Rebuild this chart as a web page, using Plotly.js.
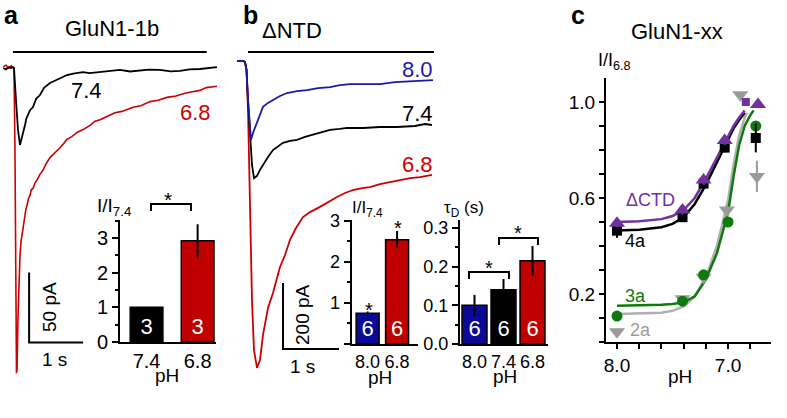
<!DOCTYPE html>
<html><head><meta charset="utf-8">
<script src="https://cdn.plot.ly/plotly-3.0.1.min.js"></script>
<style>html,body{margin:0;padding:0;background:#fff}#chart{width:787px;height:418px}</style>
</head><body><div id="chart"></div>
<script>
// ================= DATA =================
// Panel a: GluN1-1b currents (time in s, current in pA)
const a74_t = [-0.2,-0.15,-0.1,-0.05,-0.02,0,0.037,0.074,0.111,0.148,0.175,0.204,0.23,0.259,0.3,0.352,0.41,0.481,0.56,0.667,0.76,0.852,0.92,0.981,1.1,1.278,1.4,1.593,1.75,1.963,2.15,2.333,2.5,2.704,2.9,3.074,3.25,3.444,3.6,3.759];
const a74_I = [0,-1,0.5,0,0.7,0,-22.9,-44.3,-55,-50,-45,-40.7,-36,-33.6,-30,-27.9,-22,-19.3,-14,-10.7,-9,-7.1,-6,-5,-4,-2.9,-3.6,-2.9,-1.8,-1.4,-2.5,-2.1,-1.2,-1.4,-2.4,-2.1,-1.0,-0.7,-0.2,0.7];
const a68_t = [-0.2,-0.15,-0.1,-0.05,-0.02,0,0.018,0.037,0.046,0.056,0.074,0.093,0.111,0.13,0.148,0.17,0.204,0.22,0.241,0.27,0.296,0.32,0.352,0.39,0.426,0.48,0.537,0.6,0.667,0.75,0.852,0.92,0.981,1.07,1.167,1.28,1.407,1.5,1.593,1.7,1.87,2.0,2.204,2.35,2.519,2.67,2.833,3.0,3.167,3.3,3.444,3.56,3.685,3.759];
const a68_I = [1,2,0,1.5,0.5,0,-58,-166,-218,-215,-178,-150,-134,-124,-119,-112,-106,-101,-98,-93,-91,-87,-86,-82,-80,-76,-73,-68,-64,-61,-57,-54,-51,-49,-46,-44,-41,-38,-37,-35,-32,-31,-28,-27,-24,-23,-21,-20,-18,-17,-16,-14,-13.6,-13];
const aScale_t = [0.28,0.28,1.28];   // 50 pA / 1 s scale bar
const aScale_I = [-146,-196,-196];
const aStim = [-0.02, 3.57, 11.4];   // stimulus bar: t start, t end, level

// Panel a inset: I/I7.4
const aBarPH = ['7.4','6.8'];
const aBarVal = [1.0, 2.92];
const aBarErr = [0, 0.48];
const aBarN = ['3','3'];

// Panel b: ΔNTD currents
const b80_t = [-0.17,-0.063,-0.027,0,0.027,0.0625,0.08,0.116,0.1875,0.24,0.295,0.384,0.473,0.598,0.723,0.81,0.902,1.08,1.277,1.491,1.67,1.848,2.116,2.384,2.652,2.92,3.098,3.33];
const b80_I = [0,0,-3,-27,-118,-209,-239,-218,-188,-160,-139,-127,-118,-106,-97,-94,-91,-88,-82,-79,-73,-70,-70,-70,-64,-61,-61,-58];
const b74_t = [-0.17,-0.063,-0.027,0,0.027,0.0625,0.098,0.134,0.1875,0.241,0.295,0.384,0.473,0.5625,0.652,0.777,0.902,1.045,1.1875,1.348,1.491,1.67,1.795,2.08,2.384,2.6875,3.009,3.1875,3.3125];
const b74_I = [0,0,-3,-27,-118,-239,-315,-355,-348,-330,-315,-291,-270,-258,-248,-242,-239,-230,-224,-215,-209,-206,-203,-203,-200,-200,-197,-191,-194];
const b68_t = [-0.17,-0.063,-0.027,0,0.027,0.0625,0.098,0.134,0.1875,0.241,0.295,0.384,0.473,0.598,0.6875,0.777,0.884,1.009,1.134,1.3125,1.455,1.616,1.759,1.902,2.0625,2.205,2.384,2.5625,2.741,2.92,3.098,3.3125];
const b68_I = [0,0,-3,-27,-148,-421,-724,-876,-930,-906,-830,-748,-703,-624,-588,-542,-506,-473,-458,-442,-427,-412,-400,-391,-385,-382,-373,-367,-361,-355,-352,-345];
const bScale_t = [0.652,0.652,1.652];  // 200 pA / 1 s scale bar
const bScale_I = [-673,-873,-873];
const bStim = [0.027, 3.348, 27];

// Panel b inset 1: I/I7.4
const b1PH = ['8.0','6.8'];
const b1Val = [0.75, 2.54];
const b1Err = [0.04, 0.21];
const b1N = ['6','6'];

// Panel b inset 2: tau_D (s)
const b2PH = ['8.0','7.4','6.8'];
const b2Val = [0.100, 0.140, 0.215];
const b2Err = [0.027, 0.028, 0.038];
const b2N = ['6','6','6'];

// Panel c: I/I6.8 vs pH
const ctdPH  = [8.0, 7.41, 7.22, 7.03, 6.73];
const ctdVal = [0.495, 0.55, 0.675, 0.84, 0.99];
const ctdErr = [0.015, 0.02, 0.02, 0.02, 0.01];
const ctdSqPH = [6.84], ctdSqVal = [1.0];
const n4aPH  = [8.0, 7.41, 7.22, 7.03, 6.75];
const n4aVal = [0.464, 0.52, 0.66, 0.81, 0.85];
const n4aErr = [0.03, 0.015, 0.02, 0.02, 0.06];
const n3aPH  = [8.0, 7.41, 7.22, 7.0, 6.75];
const n3aVal = [0.108, 0.17, 0.28, 0.50, 0.90];
const n3aErr = [0.01, 0.01, 0.02, 0.02, 0.02];
const n2aPH  = [8.0, 7.41, 7.22, 7.01, 6.89, 6.74];
const n2aVal = [0.043, 0.18, 0.27, 0.55, 1.03, 0.69];
const n2aErr = [0.01, 0.01, 0.015, 0.02, 0.01, 0.065];
// fitted curves
const fitPH_A  = [8.0, 7.8, 7.6, 7.5, 7.4, 7.3, 7.2, 7.1, 7.0, 6.95, 6.9, 6.85];
const fitCTD   = [0.50, 0.503, 0.512, 0.525, 0.55, 0.60, 0.68, 0.77, 0.86, 0.90, 0.935, 0.965];
const fit4a    = [0.465, 0.468, 0.478, 0.492, 0.52, 0.575, 0.655, 0.75, 0.845, 0.89, 0.925, 0.955];
const fitPH_3a = [8.0, 7.8, 7.6, 7.5, 7.4, 7.3, 7.2, 7.1, 7.05, 7.0, 6.95, 6.9, 6.85, 6.8, 6.77];
const fit3a    = [0.151, 0.152, 0.155, 0.158, 0.165, 0.19, 0.26, 0.37, 0.45, 0.54, 0.69, 0.82, 0.9, 0.945, 0.965];
const fitPH_2a = [8.0, 7.8, 7.6, 7.5, 7.4, 7.3, 7.2, 7.1, 7.05, 7.0, 6.95, 6.9, 6.85, 6.83];
const fit2a    = [0.117, 0.118, 0.122, 0.13, 0.148, 0.19, 0.27, 0.40, 0.49, 0.59, 0.74, 0.86, 0.935, 0.955];
const cXTicks = [8.0, 7.8, 7.6, 7.4, 7.2, 7.0, 6.8, 6.6];
const cXText  = ['8.0','','','','','7.0','',''];
const cYTicks = [0,0.1,0.2,0.3,0.4,0.5,0.6,0.7,0.8,0.9,1.0];
const cYText  = ['','','0.2','','','','0.6','','','','1.0'];

// ================= STYLE / LAYOUT =================
const W = 787, H = 418;
const X = p => p / W, Y = p => 1 - p / H;
const FONT = 'Liberation Sans, Arial, Helvetica, sans-serif';
const RED = '#cc0000', BARRED = '#c00000', BLUE = '#1a1aa8', BARBLUE = '#0a0a98';
const PURPLE = '#7030a0', GREEN = '#0e7a0e', GRAY = '#9a9a9a';

const axBase = {showline:true, linecolor:'black', linewidth:2, ticks:'outside', ticklen:6, tickwidth:2,
  tickcolor:'black', showgrid:false, zeroline:false, fixedrange:true, tickfont:{family:FONT, size:20, color:'black'}};

const traces = [];
const line = (x, y, xa, ya, color, w) => ({type:'scatter', mode:'lines', x, y, xaxis:xa, yaxis:ya,
  line:{color, width:w}, hoverinfo:'skip', showlegend:false});

// panel a traces
traces.push(line(a68_t, a68_I, 'x', 'y', RED, 1.6));
traces.push(line(a74_t, a74_I, 'x', 'y', 'black', 1.8));
traces.push(line(aScale_t, aScale_I, 'x', 'y', 'black', 2));
// panel b traces
traces.push(line(b68_t, b68_I, 'x3', 'y3', RED, 1.8));
traces.push(line(b74_t, b74_I, 'x3', 'y3', 'black', 1.8));
traces.push(line(b80_t, b80_I, 'x3', 'y3', BLUE, 1.8));
traces.push(line(bScale_t, bScale_I, 'x3', 'y3', 'black', 2));

const bar = (labels, vals, errs, ns, colors, xa, ya, width) => ({type:'bar',
  x: labels.map((_, i) => i), y: vals, xaxis:xa, yaxis:ya, width,
  marker:{color:colors, line:{color:'black', width:1.5}},
  error_y:{type:'data', array:errs, visible:true, color:'black', thickness:2, width:0},
  text: ns, textposition:'inside', insidetextanchor:'start', constraintext:'none',
  textfont:{family:FONT, color:'white', size:22}, hoverinfo:'skip', showlegend:false});
traces.push(bar(aBarPH, aBarVal, aBarErr, aBarN, ['black', BARRED], 'x2', 'y2', 0.64));
traces.push(bar(b1PH, b1Val, b1Err, b1N, [BARBLUE, BARRED], 'x4', 'y4', 0.78));
traces.push(bar(b2PH, b2Val, b2Err, b2N, [BARBLUE, 'black', BARRED], 'x5', 'y5', 0.86));

// panel c
traces.push(line(fitPH_2a, fit2a, 'x6', 'y6', '#b0b0b0', 2.5));
traces.push(line(fitPH_3a, fit3a, 'x6', 'y6', GREEN, 2.5));
traces.push(line(fitPH_A, fit4a, 'x6', 'y6', 'black', 2.5));
traces.push(line(fitPH_A, fitCTD, 'x6', 'y6', PURPLE, 2.5));
const pts = (x, y, err, sym, color, size) => ({type:'scatter', mode:'markers', x, y, xaxis:'x6', yaxis:'y6',
  marker:{symbol:sym, color, size, line:{width:0}},
  error_y:{type:'data', array:err, visible:true, color, thickness:2, width:0},
  hoverinfo:'skip', showlegend:false, cliponaxis:false});
traces.push(pts(n2aPH, n2aVal, n2aErr, 'triangle-down', GRAY, 14));
traces.push(pts(n3aPH, n3aVal, n3aErr, 'circle', GREEN, 11));
traces.push(pts(n4aPH, n4aVal, n4aErr, 'square', 'black', 10));
traces.push(pts(ctdPH, ctdVal, ctdErr, 'triangle-up', PURPLE, 14));
traces.push(pts(ctdSqPH, ctdSqVal, [0], 'square', PURPLE, 8));

const ann = (text, px, py, size, color, extra) => Object.assign({text, x:X(px), y:Y(py), xref:'paper', yref:'paper',
  showarrow:false, xanchor:'center', yanchor:'middle', font:{family:FONT, size, color:color||'black'}}, extra||{});

const annotations = [
  ann('<b>a</b>', 11, 15, 25),
  ann('GluN1-1b', 112, 29, 22),
  ann('7.4', 86, 91, 22),
  ann('6.8', 195, 112, 22, RED),
  ann('50 pA', 49, 307, 19, 'black', {textangle:-90}),
  ann('1 s', 54, 359, 19),
  ann('I/I<sub>7.4</sub>', 95, 207, 19, 'black', {xanchor:'left'}),
  ann('*', 168, 199, 21),
  ann('pH', 167, 375, 19),

  ann('<b>b</b>', 250, 15, 25),
  ann('ΔNTD', 292, 30, 22),
  ann('8.0', 418, 69, 22, BLUE),
  ann('7.4', 418, 114, 22),
  ann('6.8', 418, 164, 22, RED),
  ann('200 pA', 302, 315, 19, 'black', {textangle:-90}),
  ann('1 s', 302, 366, 19),
  ann('I/I<sub>7.4</sub>', 350, 209, 17, 'black', {xanchor:'left'}),
  ann('*', 369, 310, 20),
  ann('*', 398, 228, 20),
  ann('pH', 380, 377, 19),
  ann('τ<sub>D</sub> (s)', 442, 209, 17, 'black', {xanchor:'left'}),
  ann('*', 489, 268, 20),
  ann('*', 518, 233, 20),
  ann('pH', 505, 376, 19),

  ann('<b>c</b>', 578, 15, 25),
  ann('GluN1-xx', 677, 31, 22),
  ann('I/I<sub>6.8</sub>', 596, 61, 18, 'black', {xanchor:'left'}),
  ann('ΔCTD', 650, 200, 18, PURPLE),
  ann('4a', 635, 241, 18),
  ann('3a', 635, 296, 18, GREEN),
  ann('2a', 640, 330, 18, GRAY),
  ann('pH', 680, 376, 19)
];

const bracket = (x0, x1, yTop, yLeg) => ({type:'path', xref:'paper', yref:'paper',
  path:`M ${X(x0)} ${Y(yLeg)} L ${X(x0)} ${Y(yTop)} L ${X(x1)} ${Y(yTop)} L ${X(x1)} ${Y(yLeg)}`,
  line:{color:'black', width:2}});

const shapes = [
  {type:'line', xref:'x', yref:'y', x0:aStim[0], x1:aStim[1], y0:aStim[2], y1:aStim[2], line:{color:'black', width:2}},
  {type:'line', xref:'x3', yref:'y3', x0:bStim[0], x1:bStim[1], y0:bStim[2], y1:bStim[2], line:{color:'black', width:2}},
  bracket(151, 191, 204, 211),
  bracket(469, 509, 272, 279),
  bracket(499, 538, 238, 245)
];

const layout = {
  width: W, height: H, margin:{l:0, r:0, t:0, b:0},
  paper_bgcolor:'white', plot_bgcolor:'rgba(0,0,0,0)',
  font:{family:FONT, color:'black'}, showlegend:false, hovermode:false,
  xaxis:{domain:[X(0.5), X(230)], range:[-0.25, 4.0], visible:false, fixedrange:true},
  yaxis:{domain:[Y(418), Y(40)], range:[-250, 20], visible:false, fixedrange:true},
  xaxis2:Object.assign({}, axBase, {anchor:'y2', domain:[X(120), X(215.5)], range:[-0.52, 1.35],
    tickmode:'array', tickvals:[0,1], ticktext:aBarPH, ticks:''}),
  yaxis2:Object.assign({}, axBase, {anchor:'x2', domain:[Y(342), Y(220)], range:[0, 3.52],
    tickmode:'array', tickvals:[0,1,2,3], ticktext:['0','1','2','3'],
    minor:{tickmode:'array', tickvals:[0.5,1.5,2.5,3.5], ticks:'outside', ticklen:3, tickwidth:2, tickcolor:'black'}}),
  xaxis3:{domain:[X(230), X(440)], range:[-0.2946, 3.4554], visible:false, fixedrange:true},
  yaxis3:{domain:[Y(418), Y(40)], range:[-1081.8, 63.6], visible:false, fixedrange:true},
  xaxis4:Object.assign({}, axBase, {anchor:'y4', domain:[X(351.7), X(418.3)], range:[-0.54, 1.72],
    tickmode:'array', tickvals:[0,1], ticktext:b1PH, ticks:'', tickfont:{family:FONT, size:18, color:'black'}}),
  yaxis4:Object.assign({}, axBase, {anchor:'x4', domain:[Y(344), Y(220)], range:[0, 3.02],
    tickmode:'array', tickvals:[0,1,2,3], ticktext:['','1','2','3'], tickfont:{family:FONT, size:18, color:'black'},
    minor:{tickmode:'array', tickvals:[0.5,1.5,2.5], ticks:'outside', ticklen:3, tickwidth:2, tickcolor:'black'}}),
  xaxis5:Object.assign({}, axBase, {anchor:'y5', domain:[X(460), X(548)], range:[-0.5, 2.534],
    tickmode:'array', tickvals:[0,1,2], ticktext:b2PH, ticks:'', tickfont:{family:FONT, size:18, color:'black'}}),
  yaxis5:Object.assign({}, axBase, {anchor:'x5', domain:[Y(344), Y(220)], range:[0, 0.3204],
    tickmode:'array', tickvals:[0,0.1,0.2,0.3], ticktext:['0.0','0.1','0.2','0.3'], tickfont:{family:FONT, size:18, color:'black'},
    minor:{tickmode:'array', tickvals:[0.05,0.15,0.25], ticks:'outside', ticklen:3, tickwidth:2, tickcolor:'black'}}),
  xaxis6:Object.assign({}, axBase, {anchor:'y6', domain:[X(606), X(771)], range:[8.099, 6.613],
    tickmode:'array', tickvals:cXTicks, ticktext:cXText, ticklen:5, tickfont:{family:FONT, size:19, color:'black'}}),
  yaxis6:Object.assign({}, axBase, {anchor:'x6', domain:[Y(342), Y(78)], range:[0, 1.1],
    tickmode:'array', tickvals:cYTicks, ticktext:cYText, ticklen:5, tickfont:{family:FONT, size:19, color:'black'}}),
  annotations, shapes
};

Plotly.newPlot('chart', traces, layout, {staticPlot:true, displayModeBar:false});
</script>
</body></html>
